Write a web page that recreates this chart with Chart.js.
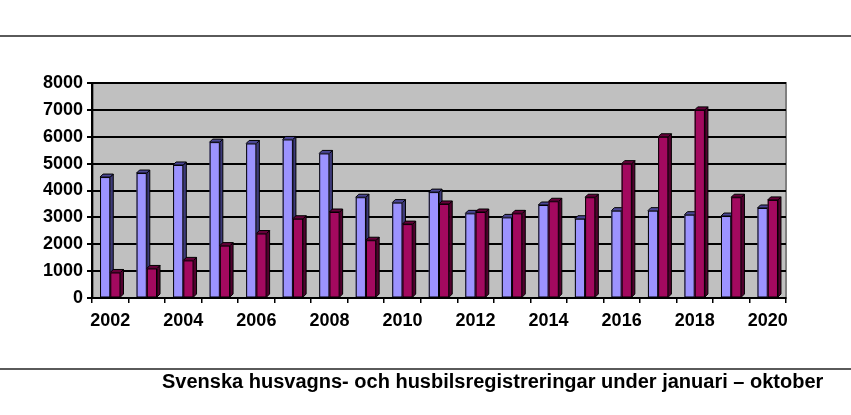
<!DOCTYPE html>
<html>
<head>
<meta charset="utf-8">
<script src="https://cdn.jsdelivr.net/npm/chart.js@4/dist/chart.umd.min.js"></script>
<style>
  body { margin: 0; background: #fff; }
  #wrap { position: relative; width: 851px; height: 415px; overflow: hidden; }
  #chart { position: absolute; left: 0; top: 0; }
  .rule { position: absolute; left: 0; width: 851px; height: 0; border-top: 2px solid #5a5a5a; }
  #title { position: absolute; left: 162px; top: 370px; font: bold 20px Arial, "Liberation Sans", sans-serif; line-height: 22px; color: #000; white-space: nowrap; }
</style>
</head>
<body>
<div id="wrap">
  <div class="rule" style="top:35px"></div>
  <canvas id="chart" width="851" height="415"></canvas>
  <div class="rule" style="top:368px"></div>
  <div id="title">Svenska husvagns- och husbilsregistreringar under januari – oktober</div>
</div>
<script>
var years = ['2002', '2003', '2004', '2005', '2006', '2007', '2008', '2009', '2010', '2011',
             '2012', '2013', '2014', '2015', '2016', '2017', '2018', '2019', '2020'];
var husvagnar = [4500, 4650, 4950, 5800, 5750, 5900, 5380, 3750, 3550, 3940,
                 3150, 3000, 3460, 2950, 3250, 3250, 3100, 3050, 3350];
var husbilar = [950, 1100, 1400, 1950, 2400, 2950, 3200, 2150, 2750, 3500,
                3200, 3150, 3600, 3750, 5000, 6000, 7000, 3750, 3650];

var faceColors = [
    { front: '#9c93ff', side: '#3d3a7a', top: '#4b4796' },
    { front: '#a3095f', side: '#52002e', top: '#66003a' }
];
var depth = 3;

// gray back wall behind the grid
var wallPlugin = {
    id: 'wall',
    beforeDraw: function(chart) {
        var a = chart.chartArea, ctx = chart.ctx;
        ctx.save();
        ctx.fillStyle = '#c0c0c0';
        ctx.fillRect(a.left, a.top, a.right - a.left, a.bottom - a.top);
        ctx.strokeStyle = '#808080';
        ctx.lineWidth = 2;
        ctx.strokeRect(a.left + 1, a.top, a.right - a.left - 1, a.bottom - a.top);
        ctx.restore();
    }
};

// redraw bars with a small 3d extrusion, category by category
var barsPlugin = {
    id: 'bars3d',
    afterDatasetsDraw: function(chart) {
        var ctx = chart.ctx;
        var metas = [chart.getDatasetMeta(0), chart.getDatasetMeta(1)];
        ctx.save();
        ctx.lineWidth = 1;
        ctx.strokeStyle = '#000';
        for (var i = 0; i < years.length; i++) {
            for (var d = 0; d < metas.length; d++) {
                var p = metas[d].data[i].getProps(['x', 'y', 'base', 'width'], true);
                var l = p.x - p.width / 2, r = p.x + p.width / 2, t = p.y, b = p.base;
                var c = faceColors[d];
                // side
                ctx.beginPath();
                ctx.moveTo(r, t);
                ctx.lineTo(r + depth, t - depth);
                ctx.lineTo(r + depth, b - depth);
                ctx.lineTo(r, b);
                ctx.closePath();
                ctx.fillStyle = c.side;
                ctx.fill();
                ctx.stroke();
                // top
                ctx.beginPath();
                ctx.moveTo(l, t);
                ctx.lineTo(l + depth, t - depth);
                ctx.lineTo(r + depth, t - depth);
                ctx.lineTo(r, t);
                ctx.closePath();
                ctx.fillStyle = c.top;
                ctx.fill();
                ctx.stroke();
                // front
                ctx.fillStyle = c.front;
                ctx.fillRect(l, t, r - l, b - t);
                ctx.strokeRect(l + 0.5, t + 0.5, r - l - 1, b - t - 0.5);
            }
        }
        ctx.restore();
    }
};

var fontTicks = { family: 'Arial, "Liberation Sans", sans-serif', size: 18, weight: 'bold' };

new Chart(document.getElementById('chart').getContext('2d'), {
    type: 'bar',
    data: {
        labels: years,
        datasets: [{
            label: 'Husvagnar',
            data: husvagnar,
            backgroundColor: faceColors[0].front,
            borderColor: '#000',
            borderWidth: 1
        }, {
            label: 'Husbilar',
            data: husbilar,
            backgroundColor: faceColors[1].front,
            borderColor: '#000',
            borderWidth: 1
        }]
    },
    options: {
        responsive: false,
        animation: false,
        devicePixelRatio: 1,
        layout: { padding: { left: 42, right: 65, top: 83, bottom: 77 } },
        plugins: {
            legend: { display: false },
            tooltip: { enabled: false }
        },
        datasets: {
            bar: { categoryPercentage: 0.56, barPercentage: 1 }
        },
        scales: {
            x: {
                afterFit: function(scale) { scale.height = 40; },
                grid: {
                    offset: true,
                    drawOnChartArea: false,
                    drawTicks: true,
                    tickLength: 5,
                    color: '#000',
                    lineWidth: 1.5
                },
                border: { display: true, color: '#000', width: 2 },
                ticks: {
                    autoSkip: false,
                    maxRotation: 0,
                    padding: 7,
                    color: '#000',
                    font: fontTicks,
                    callback: function(value, index) {
                        return index % 2 === 0 ? years[index] : '';
                    }
                }
            },
            y: {
                min: 0,
                max: 8000,
                afterFit: function(scale) { scale.width = 50; },
                grid: {
                    color: '#000',
                    lineWidth: 2,
                    drawTicks: true,
                    tickLength: 5
                },
                border: { display: true, color: '#000', width: 2 },
                ticks: {
                    stepSize: 1000,
                    padding: 4,
                    color: '#000',
                    font: fontTicks,
                    callback: function(value) { return String(value); }
                }
            }
        }
    },
    plugins: [wallPlugin, barsPlugin]
});
</script>
</body>
</html>
